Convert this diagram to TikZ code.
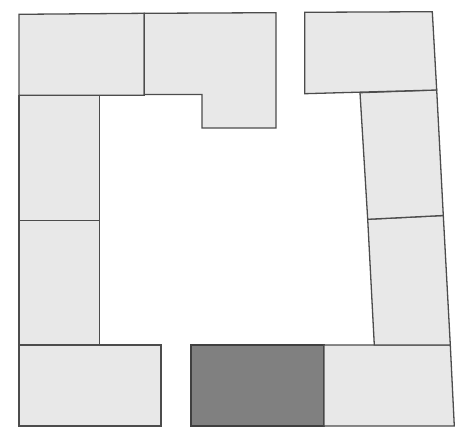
\documentclass[tikz,border=0pt]{standalone}
\begin{document}
\begin{tikzpicture}[x=1pt,y=-1pt,
  room/.style={fill=black!9, draw=black!70, line width=1.3pt, line join=miter},
  darkroom/.style={fill=black!50, draw=black!75, line width=1.3pt}]
\useasboundingbox (0,0) rectangle (461,428);
% top-left
\draw[room] (19,14.3) -- (144.3,13.3) -- (144.3,95.3) -- (19,95.3) -- cycle;
% top-middle L
\draw[room] (144.3,13.3) -- (276,12.7) -- (276,128) -- (202,128) -- (202,94.5) -- (144.3,94.5) -- cycle;
% left column
\draw[room] (19,95.3) -- (99.3,95.3) -- (99.3,220.3) -- (19,220.3) -- cycle;
\draw[room] (19,220.3) -- (99.3,220.3) -- (99.3,345) -- (19,345) -- cycle;
% bottom-left
\draw[room] (19,345) -- (161,345) -- (161,426) -- (19,426) -- cycle;
% dark
\draw[darkroom] (191,345) -- (324,345) -- (324,426) -- (191,426) -- cycle;
% bottom-right
\draw[room] (324,345) -- (450.3,345) -- (454.3,426) -- (324,426) -- cycle;
% right column
\draw[room] (374.3,345) -- (367.7,219.3) -- (443.3,215.5) -- (450.3,345) -- cycle;
\draw[room] (367.7,219.3) -- (360,92.7) -- (436.7,90) -- (443.3,215.5) -- cycle;
% top-right
\draw[room] (304.7,12.3) -- (432.3,11.7) -- (436.7,90) -- (304.7,93.7) -- cycle;
\end{tikzpicture}
\end{document}
